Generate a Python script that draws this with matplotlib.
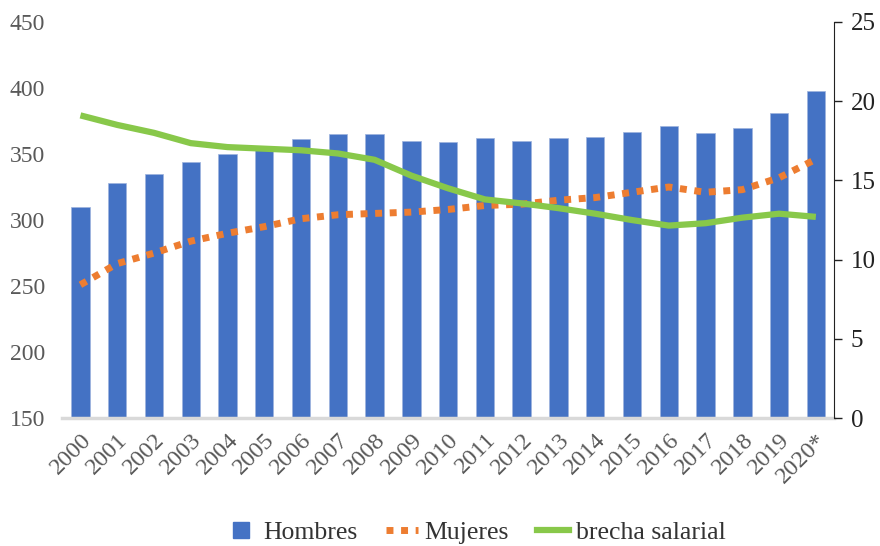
import matplotlib

matplotlib.use("Agg")
import matplotlib.pyplot as plt
import numpy as np
from matplotlib.lines import Line2D

years = ["2000", "2001", "2002", "2003", "2004", "2005", "2006", "2007", "2008",
         "2009", "2010", "2011", "2012", "2013", "2014", "2015", "2016", "2017",
         "2018", "2019", "2020*"]
hombres = [310, 328, 335, 344, 350, 354, 361, 365, 365, 360, 359, 362, 360, 362,
           363, 367, 371, 366, 370, 381, 398]
mujeres = [251, 267, 275, 284, 290, 295, 301, 304, 305, 306, 308, 311, 312, 315,
           317, 321, 325, 321, 323, 332, 346]
brecha = [19.1, 18.5, 18.0, 17.35, 17.1, 17.0, 16.9, 16.7, 16.3, 15.3, 14.5,
          13.8, 13.55, 13.25, 12.9, 12.5, 12.15, 12.3, 12.65, 12.9, 12.7]

plt.rcParams["font.family"] = ["Liberation Serif", "DejaVu Serif"]

blue = "#4472C4"
orange = "#ED7D31"
green = "#88C84A"

x = np.arange(len(years))
fig, ax = plt.subplots(figsize=(8.8, 5.46), dpi=100)
fig.subplots_adjust(left=0.0705, right=0.948, top=0.96, bottom=0.234)

ax.bar(x, np.array(hombres) - 150, bottom=150, width=0.5, color=blue,
       edgecolor="#9DB3DD", linewidth=0.5, zorder=2)
ax.plot(x, mujeres, color=orange, lw=5, dashes=(1, 1.1), solid_capstyle="butt",
        dash_capstyle="butt", zorder=3)
ax.set_ylim(150, 450)
ax.set_xlim(-0.5, len(years) - 0.5)
ax.set_yticks(range(150, 451, 50))
ax.set_xticks(x)
ax.set_xticklabels(years, rotation=45, ha="right", rotation_mode="anchor")
ax.tick_params(axis="y", length=0, pad=12, labelsize=17, labelcolor="#595959")
ax.tick_params(axis="x", length=0, pad=8, labelsize=17.5, labelcolor="#595959")
for side in ["left", "right", "top"]:
    ax.spines[side].set_visible(False)
ax.spines["bottom"].set_color("#D9D9D9")
ax.spines["bottom"].set_linewidth(2.5)

ax2 = ax.twinx()
ax2.plot(x, brecha, color=green, lw=4.5, solid_capstyle="butt", zorder=4)
ax2.set_ylim(0, 25)
ax2.set_yticks(range(0, 26, 5))
ax2.tick_params(axis="y", direction="out", length=6, width=1, pad=6,
                labelsize=18, labelcolor="#222222", color="#222222")
for side in ["left", "top", "bottom"]:
    ax2.spines[side].set_visible(False)
ax2.spines["right"].set_color("#222222")

handles = [
    Line2D([0], [0], ls="none", marker="s", ms=12, color=blue, label="Hombres"),
    Line2D([0], [0], color=orange, lw=5, dashes=(1, 1.1), label="Mujeres"),
    Line2D([0], [0], color=green, lw=4.5, label="brecha salarial"),
]
fig.legend(handles=handles, loc="center", bbox_to_anchor=(0.54, 0.024), ncol=3,
           frameon=False, fontsize=18.5, handlelength=1.25, handletextpad=0.25,
           columnspacing=1.1, labelcolor="#333333")

fig.savefig("out.png", dpi=100)
